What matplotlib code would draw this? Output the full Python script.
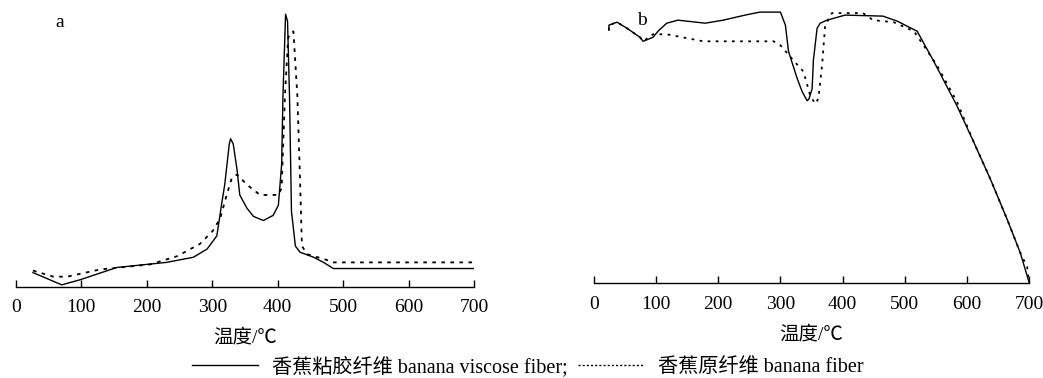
import matplotlib.pyplot as plt
from matplotlib.lines import Line2D

plt.rcParams['font.family'] = ['Liberation Serif', 'Noto Sans CJK SC', 'DejaVu Sans']

# panel a (DTG-like curves, arbitrary units)
a_viscose_t = [26, 70, 98, 154, 230, 271, 292, 307, 314, 319, 326, 328, 332, 338, 342,
               353, 363, 378, 393, 401, 406, 408, 412, 415, 418, 421, 427, 434, 455,
               470, 485, 700]
a_viscose_v = [14, 2, 7, 19, 24, 29, 37, 50, 80, 100, 140, 145, 140, 114, 90,
               77, 69, 65, 70, 80, 120, 187, 267, 260, 187, 74, 40, 34, 29,
               24, 18, 18]
a_fiber_t = [26, 57, 78, 128, 205, 246, 281, 301, 312, 322, 330, 338, 353, 373, 401,
             406, 411, 416, 421, 424, 430, 434, 437, 445, 472, 485, 700]
a_fiber_v = [16, 10, 10, 17, 22, 30, 42, 55, 67, 90, 107, 110, 100, 90, 90,
             97, 187, 244, 250, 250, 187, 107, 40, 32, 27, 24, 24]

# panel b
b_viscose_t = [24, 24, 37, 53, 74, 79, 95, 103, 117, 135, 179, 208, 243, 267, 300,
               308, 313, 327, 335, 343, 346, 351, 353, 359, 364, 375, 404, 465, 488,
               520, 546, 584, 611, 638, 665, 686, 700]
b_viscose_v = [251, 256, 259, 253, 244, 240, 244, 250, 258, 261, 258, 261, 266, 269, 269,
               256, 230, 203, 190, 181, 183, 193, 221, 253, 258, 261, 266, 265, 260,
               250, 221, 176, 140, 103, 63, 30, 1]
b_fiber_t = [24, 24, 37, 53, 74, 79, 95, 117, 176, 289, 300, 321, 337, 348, 356, 361,
             367, 372, 383, 433, 449, 482, 515, 552, 584, 611, 638, 665, 686, 697, 700]
b_fiber_v = [251, 256, 259, 253, 244, 240, 247, 247, 240, 240, 236, 221, 210, 186, 178, 183,
             216, 256, 268, 268, 261, 259, 250, 216, 180, 140, 103, 63, 30, 16, 2]

xticks = [0, 100, 200, 300, 400, 500, 600, 700]
xlabel = '温度/℃'
labels = ['香蕉粘胶纤维 banana viscose fiber;', '香蕉原纤维 banana fiber']

fig = plt.figure(figsize=(10.43, 3.78), dpi=100)
ax1 = fig.add_axes([0.0153, 0.241, 0.4392, 0.735])
ax2 = fig.add_axes([0.5695, 0.251, 0.4171, 0.725])

ax1.plot(a_viscose_t, a_viscose_v, color='black', lw=1.0)
ax1.plot(a_fiber_t, a_fiber_v, color='black', lw=1.3, linestyle=(0, (2, 3)))
ax1.set_ylim(0, 272)

ax2.plot(b_viscose_t, b_viscose_v, color='black', lw=1.0)
ax2.plot(b_fiber_t, b_fiber_v, color='black', lw=1.3, linestyle=(0, (1.5, 3)))
ax2.set_ylim(0, 272)

for ax in [ax1, ax2]:
    ax.set_xlim(0, 700)
    ax.set_xticks(xticks)
    ax.set_yticks([])
    for s in ['left', 'right', 'top']:
        ax.spines[s].set_visible(False)
    ax.spines['bottom'].set_linewidth(1.0)
    ax.tick_params(axis='x', direction='in', length=5, width=1, pad=9, labelsize=14)
    ax.set_xlabel(xlabel, fontsize=14, labelpad=9)
    ax.patch.set_alpha(0)

ax1.text(0.085, 0.953, 'a', transform=ax1.transAxes, fontsize=14, va='center')
ax2.text(0.1, 0.96, 'b', transform=ax2.transAxes, fontsize=14, va='center')

handles = [Line2D([], [], color='black', lw=1.0),
           Line2D([], [], color='black', lw=1.0, linestyle=(0, (1.5, 1.5)))]
fig.legend(handles, labels, loc='center', bbox_to_anchor=(0.506, 1 - 367 / 378),
           ncol=2, frameon=False, fontsize=14.5, handlelength=3.3, columnspacing=0.5,
           handletextpad=0.7)

fig.savefig('out.png', dpi=100)
